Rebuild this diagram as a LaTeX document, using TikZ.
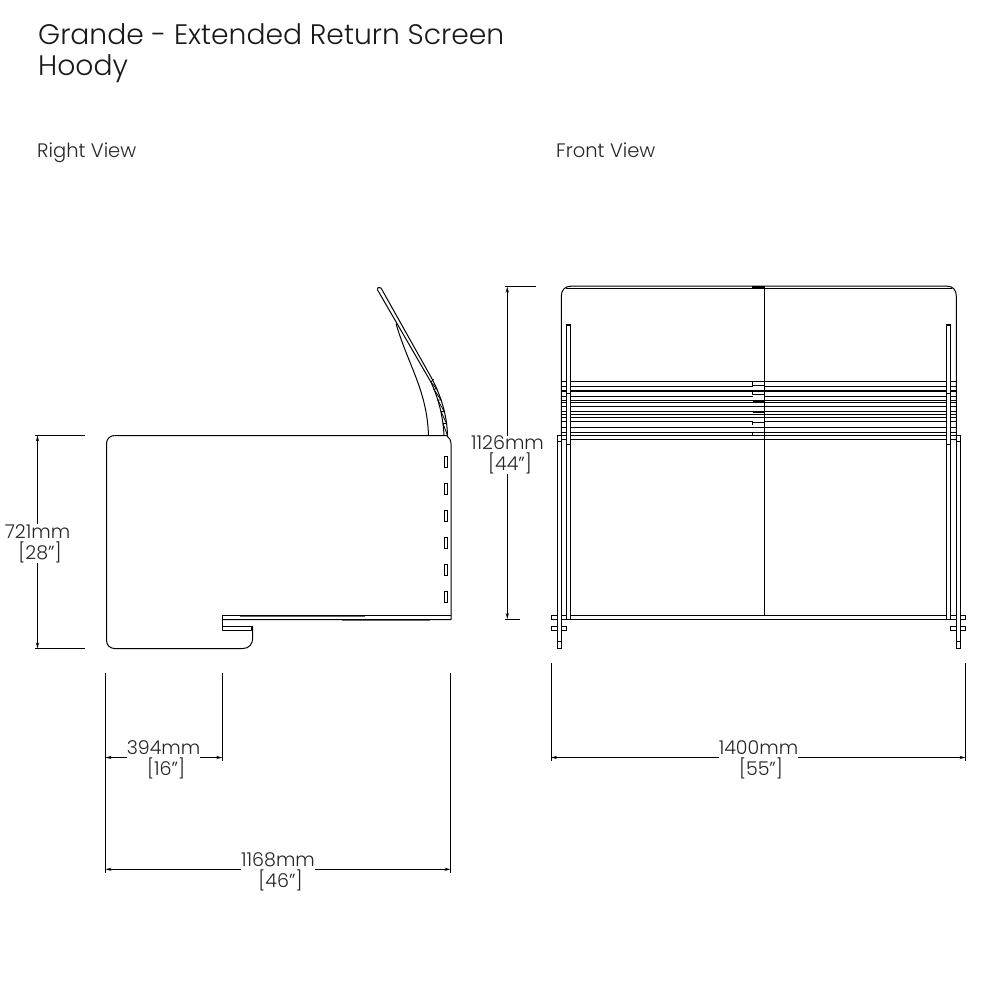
\documentclass[tikz,border=0pt]{standalone}
\usepackage{fontspec}
\setmainfont{Poppins Light}
\usetikzlibrary{arrows.meta}
\tikzset{
  part/.style={draw=black,line width=1pt,line join=round},
  thinpart/.style={draw=black,line width=.8pt},
  hole/.style={draw=black,fill=white,line width=1pt},
  ext/.style={draw=black,line width=.9pt},
  dimline/.style={draw=black,line width=.9pt,{Stealth[length=6pt,width=3.2pt]}-{Stealth[length=6pt,width=3.2pt]}},
  dimlabel/.style={fill=white,inner sep=0pt,align=center,font=\fontsize{19}{21}\selectfont,text=black!85},
  title/.style={anchor=base west,inner sep=0pt,font=\fontsize{28.2}{28}\selectfont,text=black!90},
  viewlabel/.style={anchor=base west,inner sep=0pt,font=\fontsize{19.5}{20}\selectfont,text=black!85},
}
\begin{document}
\begin{tikzpicture}[x=1pt,y=-1pt]
\useasboundingbox (0,0) rectangle (1000,1000);
\fill[white] (0,0) rectangle (1000,1000);
% titles
\node[title] (t1) at (38,44.5) {Grande - Extended Return Screen};
\node[title] (t2) at (38,75.5) {Hoody};
\node[viewlabel] (v1) at (37,158) {Right View};
\node[viewlabel] (v2) at (556,158) {Front View};
% ---------- Right view ----------
\draw[part] (222.3,615.7) -- (451,615.7);
\draw[part] (114.5,435.5) -- (446.5,435.5) .. controls (449,437) and (451,440) .. (451,444)
  -- (451,619.5) -- (222.3,619.5);
\draw[part] (114.5,435.5) .. controls (110,435.5) and (106.5,439) .. (106.5,443.5)
  -- (106.5,640.5) .. controls (106.5,645) and (110,648.5) .. (114.5,648.5)
  -- (243,648.5) .. controls (249,648.5) and (252.7,644) .. (252.7,638) -- (252.7,626);
\draw[part] (222.3,615.7) -- (222.3,630.3) -- (251.7,630.3) -- (251.7,626) -- (222.3,626);
\draw[line width=.8pt,black!60] (240,616.4) -- (365,616.4);
\draw[line width=.8pt,black!60] (342,620.2) -- (430,620.2);
\foreach \y in {456,483,510,537,564,591}
  \draw[hole] (444.3,\y) rectangle (447.7,\y+11);
% screen
\draw[part] (377.3,289.5) .. controls (376.5,287.5) and (379.5,286.5) .. (381,288)
  -- (431.7,378.3) .. controls (441,396) and (447,415) .. (447.5,435.5);
\draw[part] (377.3,289.5) -- (430.7,381.7) .. controls (438,397) and (443,415) .. (444,435.5);
\draw[part] (396,323.5) .. controls (408,365) and (427,390) .. (428.5,435.5);
\draw[thinpart] (431,382) -- (433.5,379.5)
  (431,382) -- (436.8,389.1) -- (433.6,389)
  (433.6,389) -- (441,400) -- (437.7,400)
  (437.7,400) -- (444.4,411.6) -- (441,411.6)
  (441,411.6) -- (446.5,423.4) -- (443,423.4)
  (443,423.4) -- (447.5,435.5);
% ---------- Front view ----------
% slats
\foreach \y in {381.5,390,391,400,402.5,406,411.5,414,417,427.5,432,435.5,439}
  \draw[part] (561.3,\y) -- (956.3,\y);
\foreach \y in {386,396,421}{
  \draw[part] (561.3,\y) -- (752.5,\y);
  \draw[part] (764.5,\y) -- (956.3,\y);
}
% centre joint
\draw[part] (764.5,289) -- (764.5,616);
\draw[part] (752.5,381.5) -- (752.5,385) -- (764.5,385);
\draw[part] (752.5,391) -- (752.5,394.5) -- (764.5,394.5);
\draw[part,line width=1.8pt] (752.5,401.5) -- (764,401.5);
\draw[part,line width=1.8pt] (752.5,412.5) -- (764,412.5);
\draw[part] (764.5,422) -- (752.5,422) -- (752.5,425);
\draw[part] (752.5,432) -- (752.5,435.5);
% top frame
\draw[part] (561.3,441) -- (561.3,296) .. controls (561.3,290) and (565,286.2) .. (571,286.2)
  -- (947,286.2) .. controls (953,286.2) and (956.3,290) .. (956.3,296) -- (956.3,441);
\draw[part] (566,288.8) -- (952,288.8);
\draw[line width=1.8pt] (752,287.2) -- (765,287.2);
% top box of the base
\draw[part] (561.3,435.3) -- (566.7,435.3) (950.3,435.3) -- (956.3,435.3);
% bottom rail
\draw[part] (570.3,615.7) -- (946.7,615.7) (570.3,619.7) -- (946.7,619.7);
% tabs
\foreach \y/\h in {615.4/4.4,626/4.6}{
  \draw[hole] (551.3,\y) rectangle (566.7,\y+\h);
  \draw[hole] (950.3,\y) rectangle (965.7,\y+\h);
}
% posts
\draw[hole] (566.7,324.7) rectangle (570.3,619.7);
\draw[hole] (946.7,324.7) rectangle (950.3,619.7);
\draw[line width=1.6pt] (566.7,324.7) -- (570.3,324.7) (946.7,324.7) -- (950.3,324.7);
\draw[part] (566.7,393) -- (570.3,393) (566.7,444) -- (570.3,444)
  (946.7,393) -- (950.3,393) (946.7,444) -- (950.3,444);
% feet
\draw[hole] (557.3,435.3) rectangle (561.3,648);
\draw[hole] (956.3,435.3) rectangle (960.3,648);
\draw[part] (557.3,441.3) -- (561.3,441.3) (957,441.3) -- (960.3,441.3)
  (557.3,641) -- (561.3,641) (956.3,641) -- (960.3,641);
% ---------- Dimensions ----------
\coordinate (a1) at (37.5,435.5); \coordinate (a2) at (37.5,648.5);
\draw[ext] (35,435.5) -- (85,435.5) (35,648.5) -- (85,648.5);
\draw[dimline] (a1) -- (a2);
\node[dimlabel,minimum width=60pt] (d721) at (37.5,543.5) {721mm\\\hspace*{5pt}[28"]};
\coordinate (b1) at (105.5,757.5); \coordinate (b2) at (222.3,757.5);
\draw[ext] (105.5,673) -- (105.5,873) (222.3,673) -- (222.3,760.5);
\draw[dimline] (b1) -- (b2);
\node[dimlabel] (d394) at (163.5,760) {394mm\\\hspace*{5pt}[16"]};
\coordinate (c1) at (105.5,869.3); \coordinate (c2) at (450.5,869.3);
\draw[ext] (450.5,673) -- (450.5,873);
\draw[dimline] (c1) -- (c2);
\node[dimlabel] (d1168) at (278,871.5) {1168mm\\\hspace*{5pt}[46"]};
\coordinate (e1) at (551,757.5); \coordinate (e2) at (965.5,757.5);
\draw[ext] (551,663) -- (551,761) (965.5,663) -- (965.5,761);
\draw[dimline] (e1) -- (e2);
\node[dimlabel] (d1400) at (758.5,760) {1400mm\\\hspace*{5pt}[55"]};
\coordinate (f1) at (507.3,286.7); \coordinate (f2) at (507.3,619);
\draw[ext] (505,286.7) -- (536,286.7) (505,619) -- (520,619);
\draw[dimline] (f1) -- (f2);
\node[dimlabel] (d1126) at (507.5,455) {1126mm\\\hspace*{5pt}[44"]};
\end{tikzpicture}
\end{document}
